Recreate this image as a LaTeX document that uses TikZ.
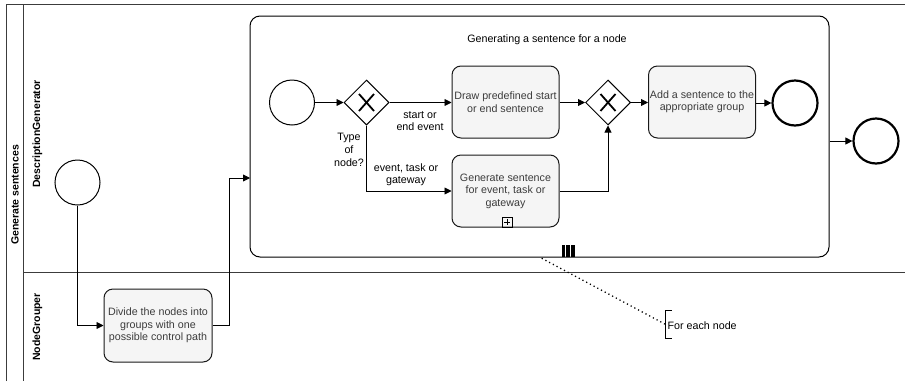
\documentclass[tikz,border=0pt]{standalone}
\usepackage{fontspec}
\setmainfont{Liberation Sans}
\usetikzlibrary{shapes.geometric,arrows.meta,calc}
\definecolor{txtgray}{RGB}{60,60,60}
\definecolor{taskfill}{RGB}{245,245,245}
\definecolor{linegray}{RGB}{60,60,60}
\tikzset{
  fnt/.style={font=\fontsize{10.7}{12.4}\selectfont},
  task/.style={draw=black!90, fill=taskfill, rounded corners=9pt, line width=1pt,
    minimum width=107pt, minimum height=72pt, align=center, text=txtgray, fnt, inner sep=1pt},
  event/.style={circle, draw=black, line width=1pt, minimum size=45pt, inner sep=0pt},
  endevent/.style={event, line width=2.2pt},
  gateway/.style={diamond, draw=black, line width=1pt, minimum width=45pt, minimum height=45pt, inner sep=0pt},
  flow/.style={line width=0.9pt, -{Triangle[length=7pt,width=7pt]}},
  lbl/.style={fnt, align=center, text=black, inner sep=0pt},
  lanelbl/.style={rotate=90, font=\fontsize{10.5}{12}\selectfont\bfseries, inner sep=0pt},
  poolline/.style={draw=linegray, line width=1pt},
}
\newcommand{\gwx}[1]{\draw[line width=1.8pt] ($(#1)+(-7.5,-8.5)$) -- ($(#1)+(7.5,8.5)$) ($(#1)+(-7.5,8.5)$) -- ($(#1)+(7.5,-8.5)$);}
\begin{document}
\begin{tikzpicture}[x=1pt,y=-1pt]
\useasboundingbox (0,0) rectangle (905,381);
% pool and lanes
\draw[poolline] (6,381) -- (6,4) -- (905,4);
\draw[poolline] (23.5,4) -- (23.5,381);
\draw[poolline] (23.5,272) -- (905,272);
\node[lanelbl] (pool) at (15,195) {Generate sentences};
\node[lanelbl] (lane1) at (37.5,134) {DescriptionGenerator};
\node[lanelbl] (lane2) at (37.5,327) {NodeGrouper};

% subprocess
\node[draw=black, line width=1pt, rounded corners=10pt, minimum width=579pt, minimum height=241pt, inner sep=0pt] (sub) at (539.5,136.5) {};
\node[lbl] (title) at (547,40) {Generating a sentence for a node};
% multi-instance marker
\fill (561.5,245) rectangle (565,257);
\fill (566.3,245) rectangle (569.8,257);
\fill (571.1,245) rectangle (574.6,257);

% lane 1 outer start & lane 2 task
\node[event] (s0) at (77.5,182.5) {};
\node[task, minimum width=108pt, minimum height=73pt] (t0) at (158,325.5) {Divide the nodes into\\groups with one\\possible control path};
\coordinate (subin) at (250,178);
\draw[flow] (s0.south) |- (t0.west);
\draw[flow] (t0.east) -- ++(17,0) |- (subin);

% inner process
\node[event] (e1) at (292,102.5) {};
\node[gateway] (g1) at (366.5,102.5) {};
\gwx{g1}
\node[task] (t1) at (505.5,102) {Draw predefined start\\or end sentence};
\node[task] (t2) at (505.5,191) {Generate sentence\\for event, task or\\gateway};
\draw[line width=0.8pt] (502,217) rectangle (512,227);
\draw[line width=0.8pt] (504,222) -- (510,222) (507,219) -- (507,225);
\node[gateway] (g2) at (608,102.5) {};
\gwx{g2}
\node[task] (t3) at (702,102) {Add a sentence to the\\appropriate group};
\node[endevent] (e2) at (795,103) {};
\node[endevent] (e3) at (876,141) {};

\draw[flow] (e1.east) -- (g1.west);
\draw[flow] (g1.east) -- (t1.west |- g1.east);
\draw[flow] (g1.south) |- (t2.west);
\draw[flow] (t1.east |- g2.west) -- (g2.west);
\draw[flow] (t2.east) -| (g2.south);
\draw[flow] (g2.east) -- (t3.west |- g2.east);
\draw[flow] (t3.east |- e2.west) -- (e2.west);
\draw[flow] (sub.east |- e3.west) -- (e3.west);

\node[lbl] (l1) at (420,121) {start or\\end event};
\node[lbl, font=\fontsize{10.7}{13}\selectfont] (l2) at (349,150) {Type\\of\\node?};
\node[lbl] (l3) at (406,175) {event, task or\\gateway};

% annotation
\draw[line width=1.2pt] (671.7,310.7) -- (665.7,310.7) -- (665.7,338.3) -- (671.7,338.3);
\coordinate (annot) at (665.7,324.5);
\coordinate (assoc) at (541.7,258.3);
\draw[line width=1.3pt, dash pattern=on 1.2pt off 3pt] (assoc) -- (annot);
\node[lbl, anchor=west] (ann) at (667.5,325.5) {For each node};
\end{tikzpicture}
\end{document}
